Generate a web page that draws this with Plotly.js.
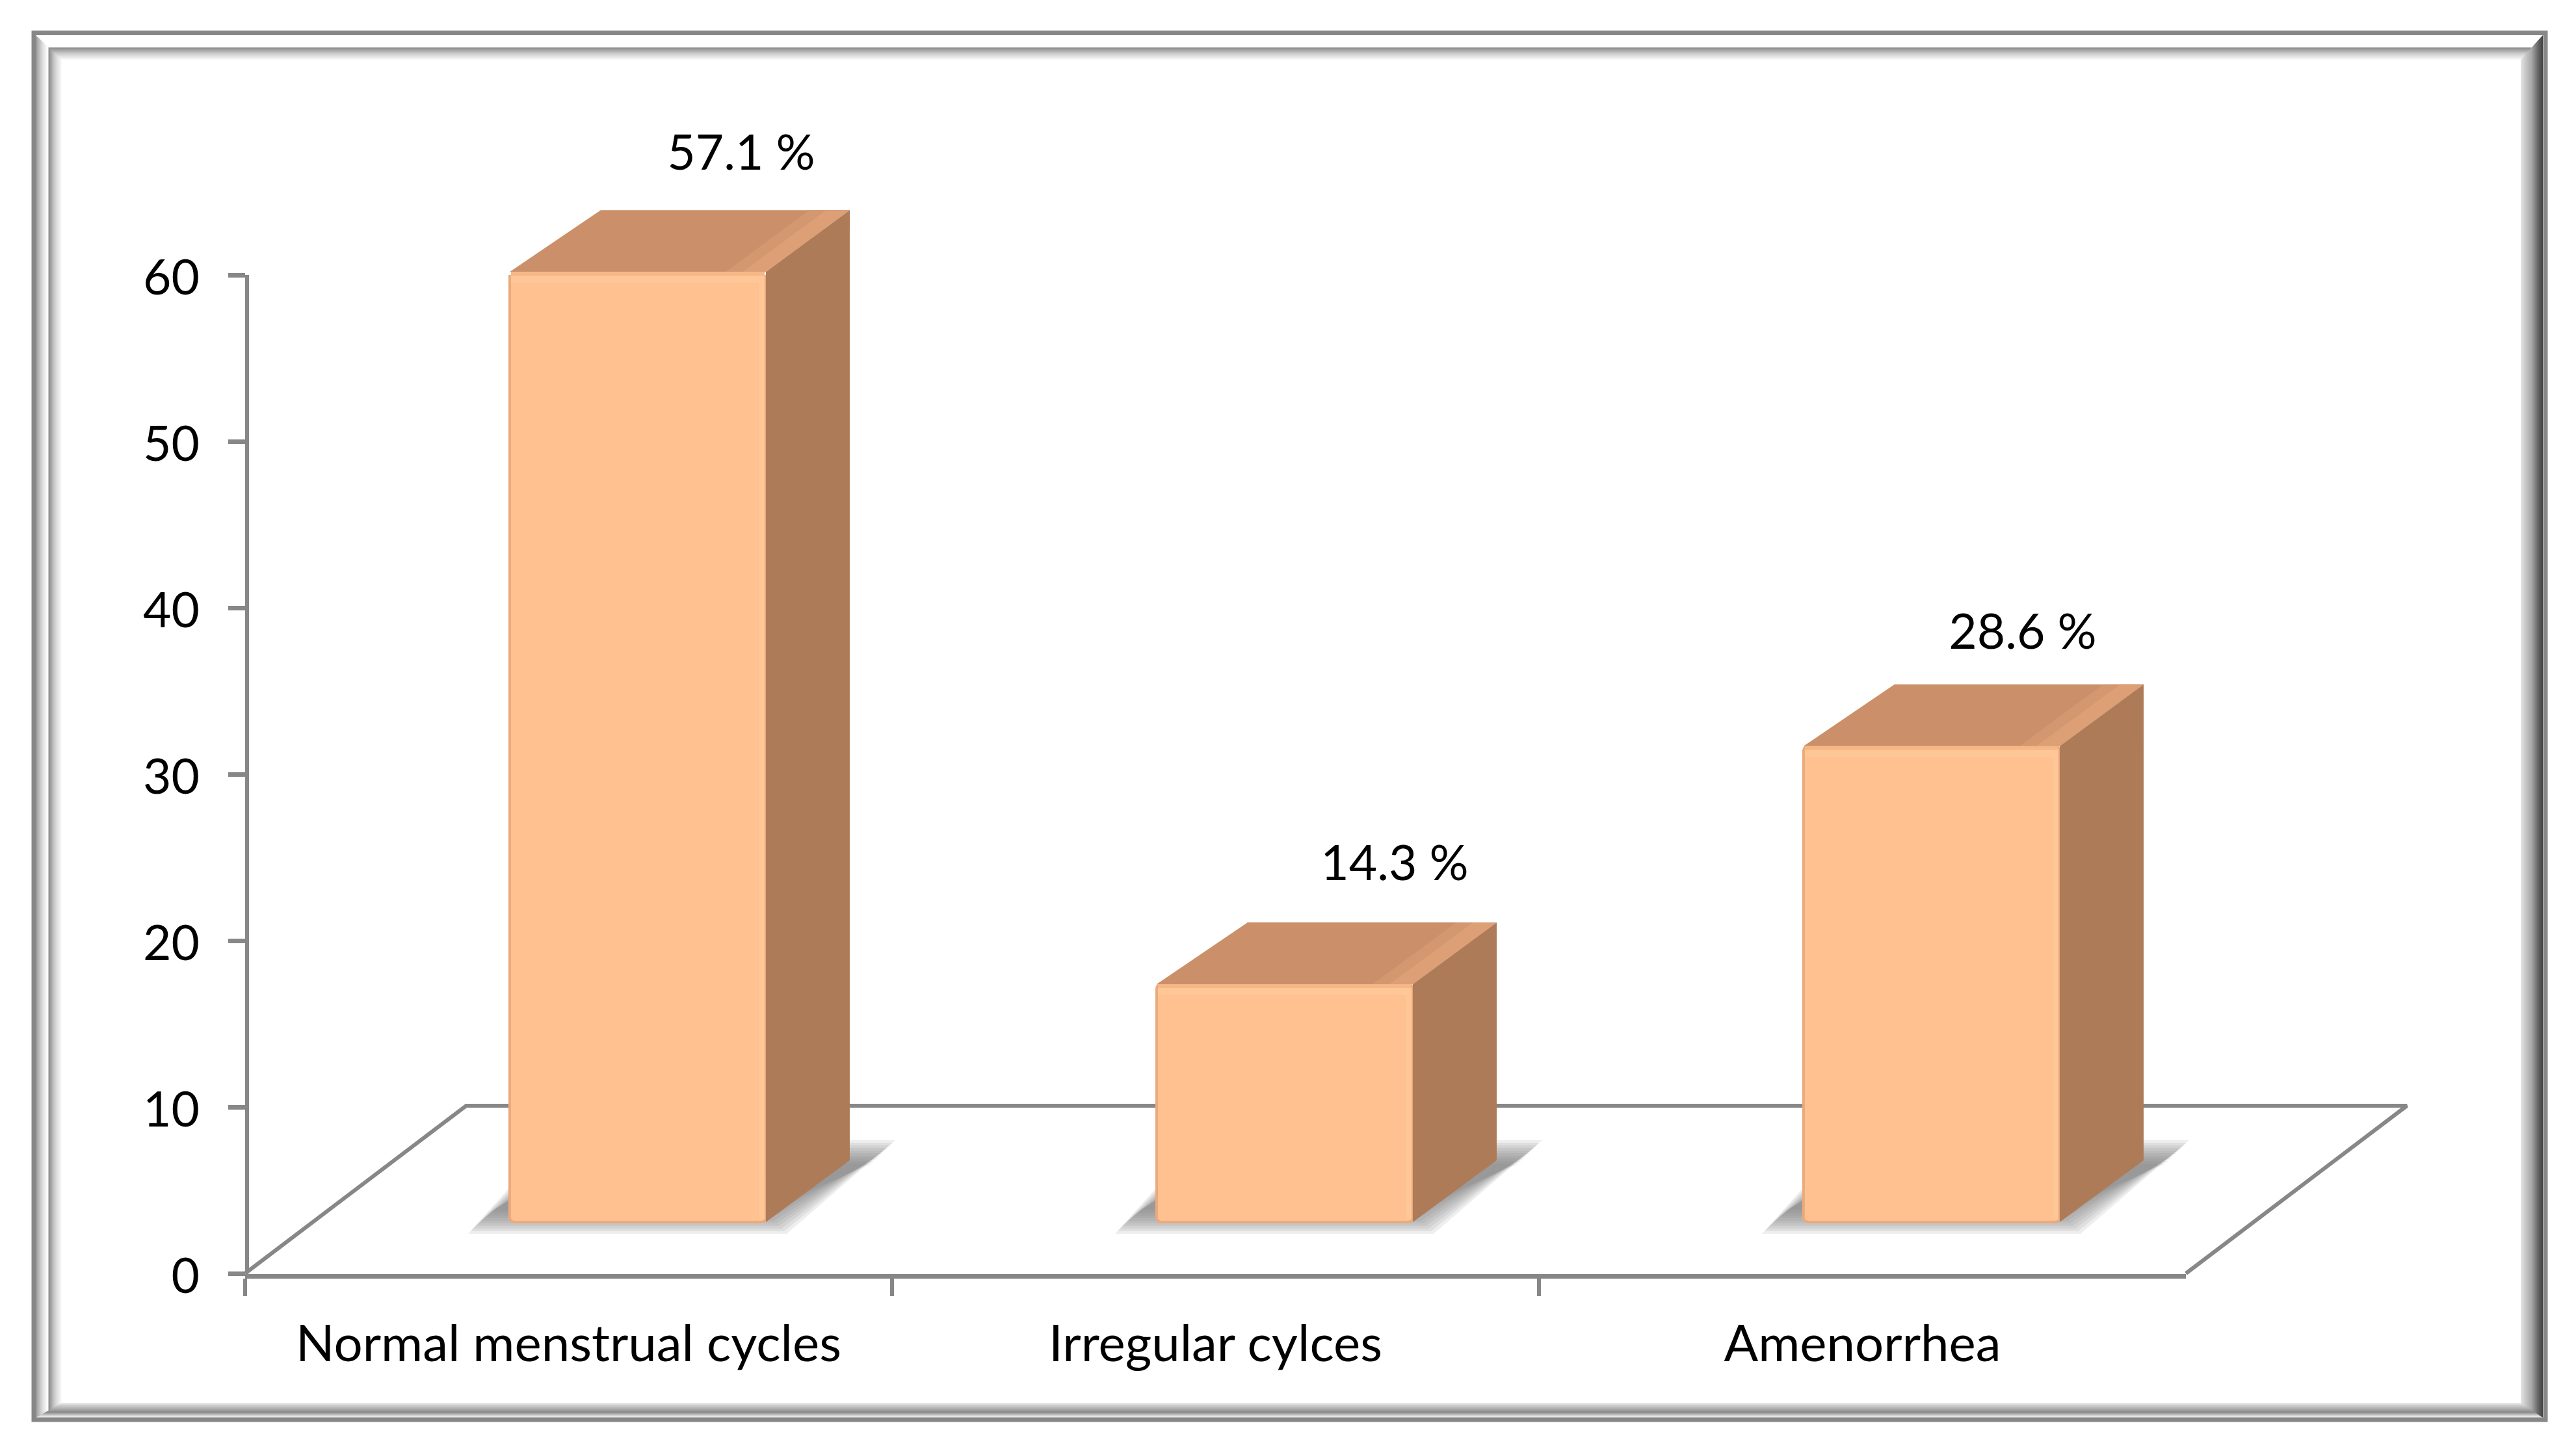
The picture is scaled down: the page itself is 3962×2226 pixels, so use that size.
<!DOCTYPE html>
<html>
<head>
<meta charset="utf-8">
<script src="https://cdn.plot.ly/plotly-3.0.1.min.js"></script>
<style>html,body{margin:0;padding:0;background:#fff}#chart{width:3962px;height:2226px}</style>
</head>
<body>
<div id="chart"></div>
<script>
// ---------- data ----------
const categories = ["Normal menstrual cycles", "Irregular cylces", "Amenorrhea"];
const values = [57.1, 14.3, 28.6];
const valueLabels = ["57.1 %", "14.3 %", "28.6 %"];
const yTicks = [0, 10, 20, 30, 40, 50, 60];

// ---------- page geometry (pixels) ----------
const W = 3962, H = 2226;
const plotL = 377, plotR = 3362, plotT = 423, plotB = 1959;
const pxX = (plotR - plotL) / 3;      // pixels per category
const pxY = (plotB - plotT) / 60;     // pixels per value unit

// ---------- 3-D look, in axis units ----------
const barShift = -0.091, barW = 0.396;
const depthX = 129 / pxX, depthY = 95 / pxY;
const backLeftX = 140 / pxX;
const baseY = 79 / pxY;
const floorX = 340 / pxX, floorY = 258 / pxY;
const labelDx = [356 / pxX, 366 / pxX, 337 / pxX];
const labelDy = [176 / pxY, 179 / pxY, 169 / pxY];

const ink = "#000000", axisGrey = "#878787";
const frontCol = "#FEC18F", frontEdge = "#EBAA7C", frontLight = "#FFC797", frontDim = "#F6B786";
const topCol = "#CB9069", topMid = "#D3986F", topLight = "#DC9F76", sideCol = "#AE7B59";
const font = 'Lato, "Open Sans", sans-serif';

const px2x = p => p / pxX, px2y = p => p / pxY;
const poly = (xs, ys, color, sub) => ({
  type: "scatter", mode: "lines", x: [...xs, xs[0]], y: [...ys, ys[0]], xaxis: "x" + sub, yaxis: "y" + sub,
  fill: "toself", fillcolor: color, line: {width: 0, color: color}, hoverinfo: "skip", showlegend: false
});

const traces = [];

// floor outline
traces.push({
  type: "scatter", mode: "lines", xaxis: "x", yaxis: "y", hoverinfo: "skip", showlegend: false,
  x: [-0.5, -0.5 + floorX, 2.5 + floorX, 2.5],
  y: [0, floorY, floorY, 0],
  line: {color: axisGrey, width: 6}
});

// soft shadows on the floor
const shadowLayers = [18, 14, 10, 6, 2, -2, -6, -10, -14, -18];
values.forEach((v, i) => {
  const l = i + barShift, r = l + barW;
  shadowLayers.forEach(e => {
    const ex = px2x(e), ey = px2y(e);
    traces.push(poly(
      [l - px2x(46) - ex, r + px2x(14) + ex, r + depthX + px2x(52) + ex, l + depthX - px2x(46) - ex],
      [baseY - ey, baseY - ey, baseY + px2y(108) + ey, baseY + px2y(108) + ey],
      "rgba(118,118,120,0.125)", ""));
  });
});

// front faces: real bars on the category axis
traces.push({
  type: "bar", x: categories, y: values, base: values.map(() => baseY), xaxis: "x2", yaxis: "y2",
  width: barW, offset: barShift,
  marker: {color: frontCol, line: {color: frontEdge, width: 4}, cornerradius: 7},
  hoverinfo: "skip", showlegend: false
});

// top and side faces, bevel highlights, data labels
values.forEach((v, i) => {
  const l = i + barShift, r = l + barW, b = baseY, t = baseY + v;
  traces.push(poly([r, r + depthX, r + depthX, r], [b, b + depthY, t + depthY, t], sideCol, "3"));
  traces.push(poly([l, r, r + depthX, l + backLeftX], [t, t, t + depthY, t + depthY], topCol, "3"));
  const band2 = px2x(62), band = px2x(36);
  traces.push(poly([r - band2, r, r + depthX, r + depthX - band2], [t, t, t + depthY, t + depthY], topMid, "3"));
  traces.push(poly([r - band, r, r + depthX, r + depthX - band], [t, t, t + depthY, t + depthY], topLight, "3"));
  const st = px2y(6), sm = px2y(17), sx = px2x(11);
  traces.push(poly([l + px2x(2), r - px2x(2), r - px2x(2), l + px2x(2)], [t - st, t - st, t - sm, t - sm], frontLight, "3"));
  traces.push(poly([l + px2x(2), r - px2x(2), r - px2x(2), l + px2x(2)], [t, t, t - st, t - st], frontDim, "3"));
  traces.push(poly([r - sx, r - px2x(2), r - px2x(2), r - sx], [b + px2y(4), b + px2y(4), t - st, t - st], frontLight, "3"));
});
traces.push({
  type: "scatter", mode: "text", xaxis: "x3", yaxis: "y3", hoverinfo: "skip", showlegend: false,
  x: values.map((v, i) => i + barShift + labelDx[i]),
  y: values.map((v, i) => baseY + v + labelDy[i]),
  text: valueLabels, textposition: "middle center",
  textfont: {family: font, size: 75, color: ink}
});

// ---------- bevelled picture frame, as paper-referenced shapes ----------
const outer = {l: 55, t: 54, r: 3911, b: 2181};
const inner = {l: 95, t: 92, r: 3877, b: 2158};
const frameStops = {
  left:   [[0, 0x9c], [0.25, 0xdd], [0.45, 0xff], [0.5, 0x8e], [0.72, 0xcf], [1, 0xff]],
  top:    [[0, 0xff], [0.48, 0xff], [0.5, 0x8a], [0.75, 0xcf], [1, 0xff]],
  right:  [[0, 0x44], [0.2, 0x66], [0.5, 0xa8], [0.8, 0xcc], [0.97, 0xe2], [1, 0xff]],
  bottom: [[0, 0xf0], [0.12, 0xd8], [0.36, 0x88], [0.55, 0xa8], [0.8, 0xcc], [1, 0xee]]
};
const fx = p => p / W, fy = p => 1 - p / H;
const lerp = (a, b, t) => a + (b - a) * t;
const at = t => ({
  l: lerp(outer.l, inner.l, t), t: lerp(outer.t, inner.t, t),
  r: lerp(outer.r, inner.r, t), b: lerp(outer.b, inner.b, t)
});
function grey(stops, t) {
  for (let i = 1; i < stops.length; i++) {
    if (t <= stops[i][0]) {
      const [a, ca] = stops[i - 1], [b, cb] = stops[i];
      const g = Math.round(lerp(ca, cb, (t - a) / (b - a)));
      return `rgb(${g},${g},${g})`;
    }
  }
  const g = stops[stops.length - 1][1];
  return `rgb(${g},${g},${g})`;
}
const shapes = [];
const pth = pts => "M" + pts.map(p => fx(p[0]) + "," + fy(p[1])).join("L") + "Z";
const N = 40;
for (let k = 0; k < N; k++) {
  const tt = k / N, a = at(tt), z = at(1);
  const sides = {
    left:   [[a.l, a.t], [z.l, z.t], [z.l, z.b], [a.l, a.b]],
    top:    [[a.l, a.t], [a.r, a.t], [z.r, z.t], [z.l, z.t]],
    right:  [[a.r, a.t], [a.r, a.b], [z.r, z.b], [z.r, z.t]],
    bottom: [[a.l, a.b], [a.r, a.b], [z.r, z.b], [z.l, z.b]]
  };
  Object.keys(sides).forEach(s => shapes.push({
    type: "path", xref: "paper", yref: "paper", layer: "below",
    path: pth(sides[s]), fillcolor: grey(frameStops[s], tt), line: {width: 0}
  }));
}
shapes.push({
  type: "rect", xref: "paper", yref: "paper", layer: "below",
  x0: fx(52), x1: fx(3915), y0: fy(50.5), y1: fy(2184),
  line: {color: "#878787", width: 7}, fillcolor: "rgba(0,0,0,0)"
});

// hidden full-page axes share the visible axes' scale, so marks may leave the 0-60 box
const hiddenX = {
  domain: [0, 1], range: [-0.5 - plotL / pxX, -0.5 + (W - plotL) / pxX],
  visible: false, fixedrange: true
};
const hiddenY = {
  domain: [0, 1], range: [-(H - plotB) / pxY, plotB / pxY],
  visible: false, fixedrange: true
};
const layout = {
  width: W, height: H, margin: {l: 0, r: 0, t: 0, b: 0, autoexpand: false},
  paper_bgcolor: "#ffffff", plot_bgcolor: "rgba(0,0,0,0)", showlegend: false, barmode: "overlay",
  xaxis: Object.assign({}, hiddenX, {anchor: "y"}),
  yaxis: Object.assign({}, hiddenY, {anchor: "x"}),
  xaxis3: Object.assign({}, hiddenX, {anchor: "y3"}),
  yaxis3: Object.assign({}, hiddenY, {anchor: "x3"}),
  xaxis2: {
    domain: [plotL / W, plotR / W], anchor: "free", position: 1 - (plotB + 3.5) / H, type: "category",
    categoryorder: "array", categoryarray: categories, range: [-0.5, 2.5], tickson: "boundaries",
    ticks: "outside", ticklen: 27, tickwidth: 6, tickcolor: axisGrey,
    showline: true, linecolor: axisGrey, linewidth: 7, showgrid: false, zeroline: false,
    tickfont: {family: font, size: 78, color: ink}, ticklabelstandoff: 34, fixedrange: true
  },
  yaxis2: {
    domain: [1 - plotB / H, 1 - plotT / H], range: [0, 60], anchor: "free", position: (plotL + 3) / W,
    tickmode: "array", tickvals: yTicks, ticktext: yTicks.map(String),
    ticks: "outside", ticklen: 26, tickwidth: 7, tickcolor: axisGrey,
    showline: true, linecolor: axisGrey, linewidth: 6, showgrid: false, zeroline: false,
    tickfont: {family: font, size: 75, color: ink}, ticklabelstandoff: 29, ticklabelshift: 4, fixedrange: true
  },
  shapes: shapes
};
Plotly.newPlot("chart", traces, layout, {displayModeBar: false, responsive: false});
</script>
</body>
</html>
